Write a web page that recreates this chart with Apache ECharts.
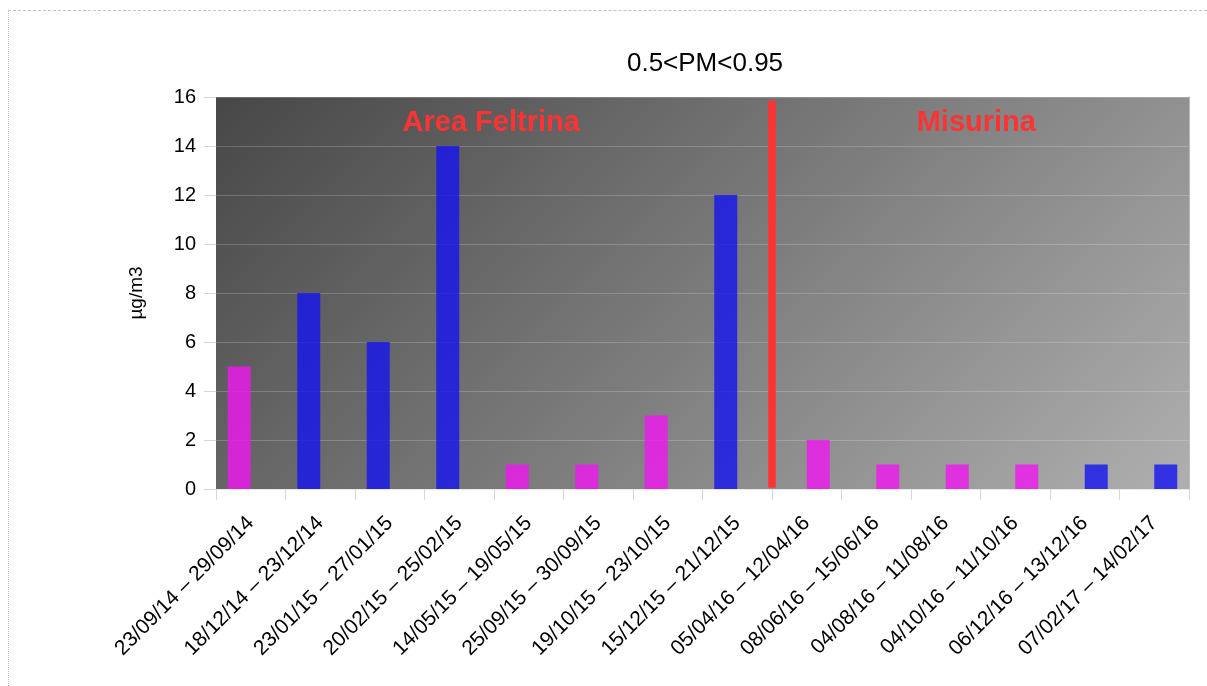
<!DOCTYPE html>
<html>
<head>
<meta charset="utf-8">
<title>0.5&lt;PM&lt;0.95</title>
<script src="https://cdn.jsdelivr.net/npm/echarts@6/dist/echarts.min.js"></script>
<style>
  html, body { margin: 0; padding: 0; background: #fff; }
  #frame {
    position: absolute; left: 8px; top: 10px; right: 0; bottom: 0;
    border-top: 1px dashed #c4c4c4; border-left: 1px dotted #c4c4c4;
  }
  #chart { position: absolute; left: 0; top: 0; width: 1207px; height: 686px; }
</style>
</head>
<body>
<div id="frame"></div>
<div id="chart"></div>
<script>
// Sampling periods (x categories)
const periods = [
  '23/09/14 – 29/09/14', '18/12/14 – 23/12/14', '23/01/15 – 27/01/15',
  '20/02/15 – 25/02/15', '14/05/15 – 19/05/15', '25/09/15 – 30/09/15',
  '19/10/15 – 23/10/15', '15/12/15 – 21/12/15', '05/04/16 – 12/04/16',
  '08/06/16 – 15/06/16', '04/08/16 – 11/08/16', '04/10/16 – 11/10/16',
  '06/12/16 – 13/12/16', '07/02/17 – 14/02/17'
];
// Concentrations (µg/m3): Area Feltrina campaigns
const feltrinaMagenta = [5, null, null, null, 1, 1, 3, null, null, null, null, null, null, null];
const feltrinaBlue    = [null, 8, 6, 14, null, null, null, 12, null, null, null, null, null, null];
// Concentrations (µg/m3): Misurina campaigns
const misurinaMagenta = [null, null, null, null, null, null, null, null, 2, 1, 1, 1, null, null];
const misurinaBlue    = [null, null, null, null, null, null, null, null, null, null, null, null, 1, 1];
const yTicks = { min: 0, max: 16, interval: 2 };
const titleText = '0.5<PM<0.95';
const yName = 'µg/m3';
// Site separator (category boundary index) and site labels
const separatorAt = 8;
const siteLabels = [
  { name: 'Area Feltrina', x: 3.96, y: 14.95 },
  { name: 'Misurina', x: 10.94, y: 14.95 }
];

const chart = echarts.init(document.getElementById('chart'), null, { renderer: 'canvas' });
const font = 'Liberation Sans, Arial, sans-serif';
const n = periods.length;
const MAGENTA = 'rgb(240,22,240)';
const BLUE = 'rgb(20,20,240)';

const grid = { left: 216, right: 18, top: 97, bottom: 197 };
const plotW = 1207 - grid.left - grid.right;
const plotH = 686 - grid.top - grid.bottom;
// 45° gradient across the plot area
const span = (plotW + plotH) / 2;

function bars(name, stack, data, color) {
  return {
    name, type: 'bar', stack, data,
    barWidth: 23, barGap: '0%',
    itemStyle: { color, opacity: 0.8 }
  };
}

chart.setOption({
  animation: false,
  title: {
    text: titleText, left: 700, top: 46, textAlign: 'center',
    textStyle: { fontFamily: font, fontSize: 26, fontWeight: 'normal', color: '#000' }
  },
  grid: Object.assign({
    show: true, borderWidth: 0,
    backgroundColor: new echarts.graphic.LinearGradient(0, 0, span / plotW, span / plotH, [
      { offset: 0, color: '#474747' },
      { offset: 1, color: '#afafaf' }
    ])
  }, grid),
  xAxis: [{
    type: 'category', data: periods, boundaryGap: true,
    axisLine: { show: true, lineStyle: { color: 'rgba(215,215,215,0.55)' } },
    axisTick: { show: true, length: 11, interval: 0, lineStyle: { color: '#d6d6d6' } },
    axisLabel: {
      interval: 0, rotate: 45, margin: 31,
      fontFamily: font, fontSize: 21, color: '#000'
    }
  }, {
    type: 'value', min: 0, max: n, show: false
  }],
  yAxis: [{
    type: 'value', min: yTicks.min, max: yTicks.max, interval: yTicks.interval,
    name: yName, nameLocation: 'middle', nameGap: 70, nameRotate: 90,
    nameTextStyle: { fontFamily: font, fontSize: 19, color: '#000' },
    axisLine: { show: false },
    axisTick: { show: true, length: 12, lineStyle: { color: '#d6d6d6' } },
    axisLabel: { margin: 20, fontFamily: font, fontSize: 20, color: '#000' },
    splitLine: { show: true, lineStyle: { color: 'rgba(255,255,255,0.2)' } }
  }, {
    type: 'value', min: yTicks.min, max: yTicks.max, position: 'right',
    axisLine: { show: true, lineStyle: { color: '#b9b9b9' } },
    axisTick: { show: false }, axisLabel: { show: false }, splitLine: { show: false }
  }],
  series: [
    bars('Area Feltrina', 'feltrina', feltrinaMagenta, MAGENTA),
    bars('Area Feltrina ', 'feltrina', feltrinaBlue, BLUE),
    bars('Misurina', 'misurina', misurinaMagenta, MAGENTA),
    bars('Misurina ', 'misurina', misurinaBlue, BLUE),
    {
      name: 'separator', type: 'line', xAxisIndex: 1, yAxisIndex: 0,
      data: [[separatorAt, 0.05], [separatorAt, 15.85]],
      symbol: 'none', silent: true,
      lineStyle: { color: '#ff3333', width: 7.5, cap: 'butt', opacity: 1 }, z: 5
    }, {
      name: 'sites', type: 'scatter', xAxisIndex: 1, yAxisIndex: 0,
      data: siteLabels.map(s => ({ value: [s.x, s.y], name: s.name })),
      symbolSize: 0, silent: true,
      itemStyle: { opacity: 1 },
      label: {
        show: true, position: 'inside', formatter: p => p.name, opacity: 1,
        fontFamily: font, fontSize: 29, fontWeight: 'bold', color: '#ff3333'
      }, z: 6
    }
  ]
});
</script>
</body>
</html>
